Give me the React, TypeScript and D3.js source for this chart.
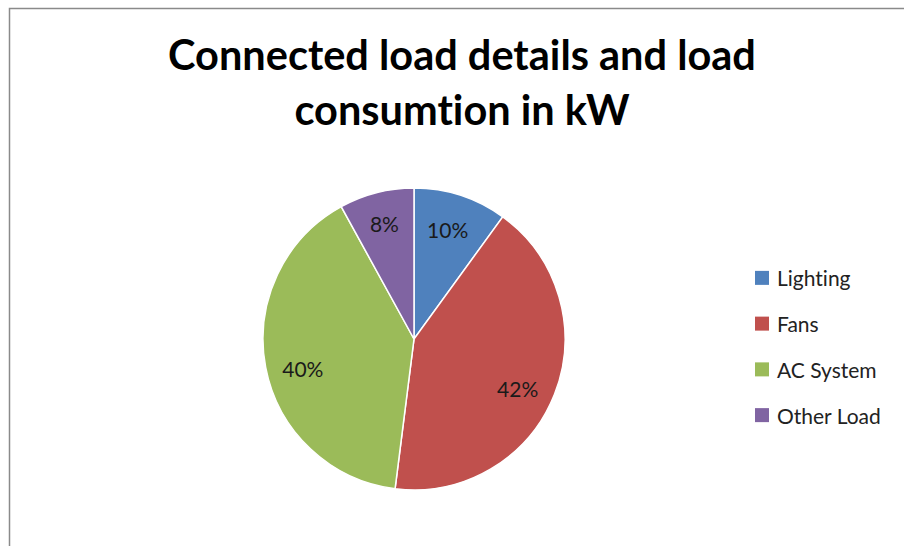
import React from "react";
import * as d3 from "d3";

const categories = ["Lighting", "Fans", "AC System", "Other Load"];
const values = [10, 42, 40, 8];
const colors = ["#4F81BD", "#C0504D", "#9BBB59", "#8064A2"];
const titleLines = ["Connected load details and load", "consumtion in kW"];

const W = 904;
const H = 546;
const cx = 414;
const cy = 339;
const R = 151;
const labelR = [115, 115, 115, 119];
// best-fit label rotation (degrees) per slice
const labelShift = [-1, 4, -4, 0];

const noLig: React.CSSProperties = {
  fontVariantLigatures: "none",
  fontFeatureSettings: '"liga" 0, "clig" 0, "dlig" 0, "calt" 0',
};

export default function App() {
  const pie = d3.pie<number>().sort(null).value((d) => d);
  const arcs = pie(values);
  const arcGen = d3.arc<d3.PieArcDatum<number>>().innerRadius(0).outerRadius(R);
  const total = d3.sum(values);
  const fmt = (v: number) => `${Math.round((v / total) * 100)}%`;

  const legendY = d3.scaleBand<string>().domain(categories).range([255, 438]).paddingInner(0);

  return (
    <svg
      width={W}
      height={H}
      style={{ position: "absolute", left: 0, top: 0, background: "#fff", ...noLig }}
      fontFamily="Lato, 'Open Sans', sans-serif"
    >
      <rect x={9.5} y={8.5} width={W + 20} height={H + 20} fill="#fff" stroke="#8a8a8a" strokeWidth={1.5} />
      {titleLines.map((t, i) => (
        <text
          key={t}
          x={462}
          y={70 + i * 55}
          textAnchor="middle"
          fontSize={41.5}
          fontWeight="bold"
          fill="#000"
          style={noLig}
        >
          {t}
        </text>
      ))}
      <g transform={`translate(${cx},${cy})`}>
        {arcs.map((a, i) => (
          <path key={categories[i]} d={arcGen(a) || ""} fill={colors[i]} stroke="#fff" strokeWidth={1.5} />
        ))}
        {arcs.map((a, i) => {
          const mid = (a.startAngle + a.endAngle) / 2 + (labelShift[i] * Math.PI) / 180;
          const x = Math.sin(mid) * labelR[i];
          const y = -Math.cos(mid) * labelR[i];
          return (
            <text
              key={"l" + i}
              x={x}
              y={y}
              textAnchor="middle"
              dominantBaseline="central"
              fontSize={21}
              fill="#1a1a1a"
            >
              {fmt(values[i])}
            </text>
          );
        })}
      </g>
      {categories.map((c, i) => {
        const y = (legendY(c) || 0) + legendY.bandwidth() / 2;
        return (
          <g key={c}>
            <rect x={755} y={y - 7} width={14} height={14} fill={colors[i]} />
            <text x={777} y={y} dominantBaseline="central" fontSize={21} fill="#222" style={noLig}>
              {c}
            </text>
          </g>
        );
      })}
    </svg>
  );
}
